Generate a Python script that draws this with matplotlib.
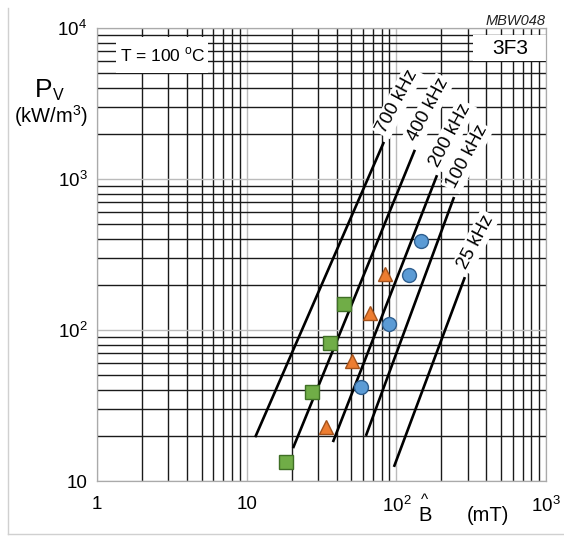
import matplotlib

matplotlib.use("Agg")
import matplotlib.pyplot as plt
from matplotlib.lines import Line2D
from matplotlib.patches import Rectangle
from matplotlib.ticker import FixedLocator, FixedFormatter, LogLocator, NullFormatter

plt.rcParams["font.family"] = ["Liberation Sans", "DejaVu Sans"]
plt.rcParams["mathtext.fontset"] = "custom"
plt.rcParams["mathtext.rm"] = "Liberation Sans"

# frequency lines (end points)
freq_labels = ["700 kHz", "400 kHz", "200 kHz", "100 kHz", "25 kHz"]
b_low = [11.4, 20.4, 37.7, 62.6, 96.4]
p_low = [19.5, 16.5, 18.1, 19.9, 12.4]
b_high = [82.6, 133.0, 187.0, 243.0, 287.0]
p_high = [1760.0, 1560.0, 1060.0, 760.0, 224.0]

# measured points
square_b = [18.3, 27.3, 36.0, 44.7]
square_p = [13.4, 38.8, 82.0, 149.0]
triangle_b = [33.9, 50.5, 66.6, 83.9]
triangle_p = [22.8, 62.4, 130.0, 235.0]
circle_b = [58.0, 89.2, 121.0, 146.0]
circle_p = [41.9, 110.0, 231.0, 388.0]

x_ticks = [1, 10, 100, 1000]
x_tick_labels = ["1", "10", r"$\mathregular{10^{2}}$", r"$\mathregular{10^{3}}$"]
y_ticks = [10, 100, 1000, 10000]
y_tick_labels = ["10", r"$\mathregular{10^{2}}$", r"$\mathregular{10^{3}}$",
                 r"$\mathregular{10^{4}}$"]

fig = plt.figure(figsize=(5.64, 5.36), dpi=100)
ax = fig.add_axes([97 / 564, 55 / 536, 449 / 564, 453 / 536])
ax.set_xscale("log")
ax.set_yscale("log")
ax.set_xlim(1, 1000)
ax.set_ylim(10, 10000)

for axis in (ax.xaxis, ax.yaxis):
    axis.set_minor_locator(LogLocator(base=10, subs=range(2, 10)))
    axis.set_minor_formatter(NullFormatter())
ax.xaxis.set_major_locator(FixedLocator(x_ticks))
ax.xaxis.set_major_formatter(FixedFormatter(x_tick_labels))
ax.yaxis.set_major_locator(FixedLocator(y_ticks))
ax.yaxis.set_major_formatter(FixedFormatter(y_tick_labels))
ax.tick_params(which="both", length=0)
ax.tick_params(axis="x", pad=11, labelsize=13.5)
ax.tick_params(axis="y", pad=7, labelsize=13.5)

ax.grid(which="minor", color="#1a1a1a", linewidth=1.0)
ax.grid(which="major", color="#bbbbbb", linewidth=1.0)
ax.set_axisbelow(True)
for spine in ax.spines.values():
    spine.set_color("#aaaaaa")
    spine.set_linewidth(0.9)

# white boxes behind the two corner labels
ax.add_patch(Rectangle((0.042, 0.9007), 0.205, 0.0795, transform=ax.transAxes,
                       facecolor="white", edgecolor="none", zorder=1.5))
ax.add_patch(Rectangle((0.837, 0.927), 0.163, 0.058, transform=ax.transAxes,
                       facecolor="white", edgecolor="none", zorder=1.5))
ax.text(0.147, 0.940, r"T = 100 $^{\mathregular{o}}$C", transform=ax.transAxes,
        ha="center", va="center", fontsize=12.5, zorder=2)
ax.text(0.92, 0.954, "3F3", transform=ax.transAxes, ha="center", va="center",
        fontsize=15, zorder=2)
ax.text(1.0, 1.0066, "MBW048", transform=ax.transAxes, ha="right",
        va="baseline", fontsize=10.5, style="italic", color="#222222")

for label, x0, y0, x1, y1 in zip(freq_labels, b_low, p_low, b_high, p_high):
    ax.plot([x0, x1], [y0, y1], color="black", linewidth=1.9,
            solid_capstyle="butt", zorder=3)
    ax.annotate(label, xy=(x1, y1), xytext=(-2, 7), textcoords="offset points",
                rotation=62, rotation_mode="anchor", ha="left", va="center",
                fontsize=13.5,
                bbox=dict(boxstyle="square,pad=0.12", facecolor="white",
                          edgecolor="none"),
                zorder=2.5)

ax.plot(square_b, square_p, linestyle="none", marker="s", markersize=9.5,
        markerfacecolor="#70AD47", markeredgecolor="#3f6f26",
        markeredgewidth=1.0, zorder=4)
ax.plot(triangle_b, triangle_p, linestyle="none", marker="^", markersize=10,
        markerfacecolor="#ED7D31", markeredgecolor="#a4521b",
        markeredgewidth=1.0, zorder=4)
ax.plot(circle_b, circle_p, linestyle="none", marker="o", markersize=10,
        markerfacecolor="#5B9BD5", markeredgecolor="#2f5f8f",
        markeredgewidth=1.0, zorder=4)

# axis titles
ax.text(-0.138, 0.848, "P", transform=ax.transAxes, ha="left",
        va="baseline", fontsize=19)
ax.text(-0.098, 0.841, "V", transform=ax.transAxes, ha="left",
        va="baseline", fontsize=11.5)
ax.text(-0.1024, 0.806, r"(kW/m$^{\mathregular{3}}$)", transform=ax.transAxes,
        ha="center", va="center", fontsize=14.5)
ax.text(0.715, -0.0883, "B", transform=ax.transAxes, ha="left",
        va="baseline", fontsize=14.5)
ax.text(0.729, -0.043, "^", transform=ax.transAxes, ha="center",
        va="center", fontsize=11)
ax.text(0.824, -0.0883, "(mT)", transform=ax.transAxes, ha="left",
        va="baseline", fontsize=14.5)

# light frame around the figure
fig.add_artist(Line2D([8 / 564, 8 / 564], [2 / 536, 528 / 536],
                      transform=fig.transFigure, color="#d0d0d0", linewidth=1))
fig.add_artist(Line2D([8 / 564, 1.0], [2 / 536, 2 / 536],
                      transform=fig.transFigure, color="#d0d0d0", linewidth=1))

fig.savefig("out.png", dpi=100)
